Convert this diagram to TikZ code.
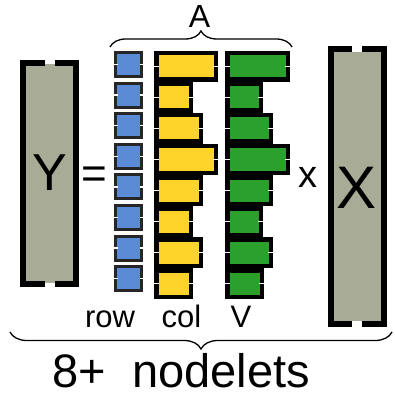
\documentclass[tikz,border=0pt]{standalone}
\usepackage{fontspec}
\setmainfont{Liberation Sans}
\usetikzlibrary{decorations.pathreplacing}
\definecolor{matfill}{RGB}{168,171,150}
\definecolor{rowblue}{RGB}{91,139,212}
\definecolor{colyel}{RGB}{255,212,42}
\definecolor{valgrn}{RGB}{44,160,44}
\begin{document}
\begin{tikzpicture}[x=1pt,y=-1pt,
  txt/.style={inner sep=0pt, anchor=base, text=black},
  bracket/.style={draw=black, line width=6.2pt, miter limit=10},
  tick/.style={draw=white, line width=1.4pt},
  bracebig/.style={decorate, draw=black, line width=1.3pt}]
\useasboundingbox[fill=white] (0,0) rectangle (394,395);
% Y matrix
\fill[matfill] (25,64) rectangle (74,283);
\draw[bracket] (45,63) -- (23,63) -- (23,284) -- (45,284);
\draw[bracket] (55,63) -- (76,63) -- (76,284) -- (55,284);
\node[txt, font=\fontsize{52}{52}\selectfont] (ylab) at (49.5,190) {Y};
% equals
\node[txt, font=\fontsize{44}{44}\selectfont] (eq) at (94.5,188) {=};
% X matrix
\fill[matfill] (334,52) rectangle (381,321);
\draw[bracket] (352,49) -- (331,49) -- (331,324) -- (352,324);
\draw[bracket] (362,49) -- (384,49) -- (384,324) -- (362,324);
\node[txt, font=\fontsize{60}{60}\selectfont] (xlab) at (357,208) {X};
% times
\node[txt, font=\fontsize{38}{38}\selectfont] (times) at (308,187) {x};
% row cells
\foreach \i in {0,...,7} {
  \pgfmathsetmacro\t{51+30.6*\i}
  \filldraw[fill=rowblue, draw=black!85, line width=3pt] (115.5,\t+1.5) rectangle (141.5,\t+25.5);
  \draw[tick] (112,\t+13.5) -- (117.5,\t+13.5);
  \draw[tick] (139.5,\t+13.5) -- (145,\t+13.5);
}
% col cells
\foreach \w [count=\i from 0] in {64,39,49,64,49,39,49,39} {
  \pgfmathsetmacro\t{51+31*\i}
  \filldraw[fill=colyel, draw=black, line width=4.5pt] (156.25,\t+2.25) rectangle (154+\w-2.25,\t+28.75);
  \draw[tick] (151.5,\t+15.5) -- (158.7,\t+15.5);
  \draw[tick] (154+\w-4.7,\t+15.5) -- (154+\w+2.5,\t+15.5);
}
% value cells
\foreach \w [count=\i from 0] in {65,38,48,65,48,38,48,39} {
  \pgfmathsetmacro\t{51+31*\i}
  \filldraw[fill=valgrn, draw=black, line width=4.5pt] (227.25,\t+2.25) rectangle (225+\w-2.25,\t+28.75);
  \draw[tick] (222.5,\t+15.5) -- (229.7,\t+15.5);
  \draw[tick] (225+\w-4.7,\t+15.5) -- (225+\w+2.5,\t+15.5);
}
% labels
\node[txt, font=\fontsize{31}{31}\selectfont] (rowlab) at (110,327) {row};
\node[txt, font=\fontsize{31}{31}\selectfont] (collab) at (181.5,327) {col};
\node[txt, font=\fontsize{31}{31}\selectfont] (vlab) at (241,327) {V};
% A brace
\coordinate (abl) at (110,47);
\coordinate (abr) at (292,47);
\draw[bracebig, decoration={brace, amplitude=16pt}] (abl) -- (abr);
\node[txt, font=\fontsize{32}{32}\selectfont] (alab) at (199.5,28) {A};
% bottom brace
\coordinate (bbl) at (10,332);
\coordinate (bbr) at (392,332);
\draw[bracebig, decoration={brace, amplitude=17pt}] (bbr) -- (bbl);
\node[txt, font=\fontsize{47}{47}\selectfont] (nodelets) at (181.5,387) {8+\ \ nodelets};
\end{tikzpicture}
\end{document}
